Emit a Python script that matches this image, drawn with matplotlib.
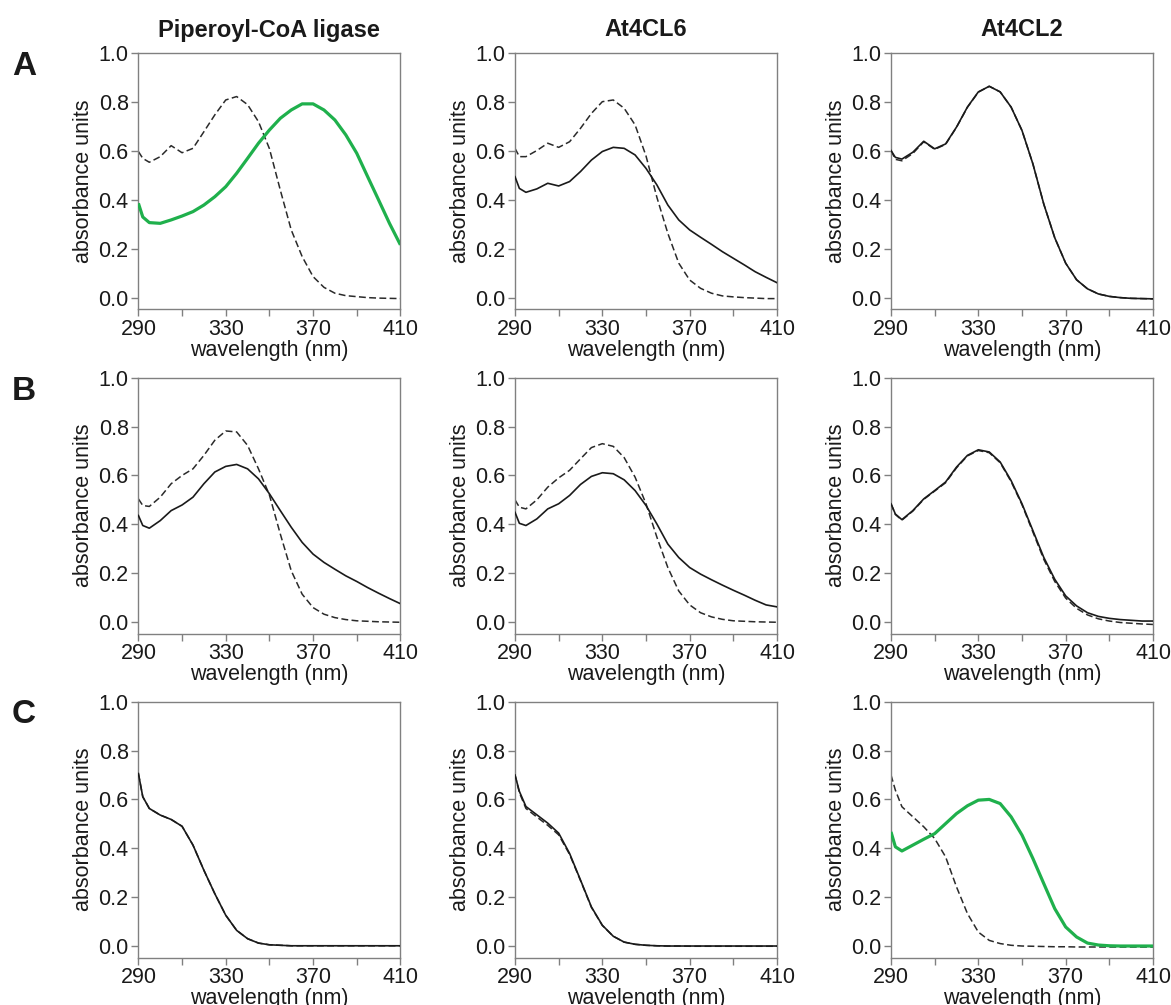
import matplotlib
matplotlib.use("Agg")
import matplotlib.pyplot as plt
from matplotlib.ticker import FixedLocator, FormatStrFormatter

plt.rcParams['font.family'] = ['Liberation Sans', 'DejaVu Sans']

# ---------------- data ----------------
wavelength = [290, 292, 295, 300, 305, 310, 315, 320, 325, 330, 335, 340, 345,
              350, 355, 360, 365, 370, 375, 380, 385, 390, 395, 400, 405, 410]

col_titles = ["Piperoyl-CoA ligase", "At4CL6", "At4CL2"]
row_letters = ["A", "B", "C"]

# Row A
A1_ref = [0.598, 0.570, 0.554, 0.577, 0.622, 0.593, 0.611, 0.679, 0.748, 0.809, 0.823, 0.790,
          0.720, 0.610, 0.440, 0.277, 0.168, 0.086, 0.042, 0.018, 0.008, 0.004, 0.000, -0.002, -0.003, -0.004]
A1_sam = [0.386, 0.330, 0.307, 0.304, 0.318, 0.334, 0.352, 0.379, 0.413, 0.454, 0.509, 0.570,
          0.632, 0.686, 0.734, 0.768, 0.793, 0.793, 0.768, 0.727, 0.666, 0.591, 0.495, 0.400, 0.304, 0.216]
A2_ref = [0.611, 0.577, 0.577, 0.602, 0.632, 0.615, 0.638, 0.693, 0.754, 0.802, 0.809, 0.775,
          0.707, 0.580, 0.410, 0.263, 0.141, 0.072, 0.038, 0.018, 0.007, 0.003, 0.000, -0.002, -0.004, -0.004]
A2_sam = [0.495, 0.447, 0.431, 0.445, 0.468, 0.457, 0.475, 0.516, 0.563, 0.598, 0.615, 0.611,
          0.584, 0.529, 0.461, 0.379, 0.318, 0.277, 0.247, 0.218, 0.188, 0.161, 0.134, 0.106, 0.083, 0.061]
A3_ref = [0.602, 0.566, 0.560, 0.590, 0.638, 0.607, 0.627, 0.697, 0.779, 0.841, 0.865, 0.842,
          0.780, 0.684, 0.547, 0.382, 0.245, 0.141, 0.073, 0.036, 0.015, 0.005, 0.000, -0.003, -0.004, -0.005]
A3_sam = [0.602, 0.574, 0.567, 0.595, 0.640, 0.609, 0.629, 0.698, 0.780, 0.842, 0.865, 0.842,
          0.780, 0.684, 0.547, 0.382, 0.245, 0.141, 0.073, 0.036, 0.015, 0.005, 0.000, -0.003, -0.004, -0.005]

# Row B
B1_ref = [0.504, 0.477, 0.473, 0.511, 0.566, 0.600, 0.627, 0.682, 0.744, 0.782, 0.778, 0.723,
          0.627, 0.520, 0.360, 0.210, 0.114, 0.059, 0.032, 0.018, 0.010, 0.005, 0.003, 0.001, 0.000, -0.001]
B1_sam = [0.436, 0.395, 0.384, 0.415, 0.456, 0.479, 0.511, 0.566, 0.614, 0.637, 0.645, 0.627,
          0.586, 0.525, 0.456, 0.388, 0.326, 0.278, 0.244, 0.216, 0.189, 0.166, 0.141, 0.118, 0.096, 0.075]
B2_ref = [0.500, 0.470, 0.463, 0.500, 0.552, 0.590, 0.621, 0.668, 0.714, 0.730, 0.719, 0.673,
          0.593, 0.484, 0.347, 0.223, 0.127, 0.070, 0.038, 0.021, 0.011, 0.005, 0.003, 0.001, 0.000, -0.001]
B2_sam = [0.449, 0.404, 0.395, 0.422, 0.463, 0.484, 0.518, 0.563, 0.596, 0.611, 0.607, 0.582,
          0.538, 0.477, 0.401, 0.319, 0.264, 0.223, 0.196, 0.173, 0.151, 0.130, 0.110, 0.089, 0.070, 0.062]
B3_ref = [0.484, 0.440, 0.417, 0.454, 0.502, 0.536, 0.570, 0.631, 0.680, 0.702, 0.693, 0.652,
          0.575, 0.480, 0.368, 0.256, 0.166, 0.098, 0.056, 0.029, 0.013, 0.004, -0.002, -0.005, -0.008, -0.010]
B3_sam = [0.484, 0.442, 0.419, 0.456, 0.504, 0.538, 0.573, 0.634, 0.682, 0.705, 0.696, 0.655,
          0.579, 0.484, 0.374, 0.264, 0.175, 0.107, 0.066, 0.038, 0.023, 0.015, 0.010, 0.007, 0.004, 0.004]

# Row C
C1_ref = [0.706, 0.611, 0.563, 0.536, 0.518, 0.490, 0.413, 0.310, 0.214, 0.126, 0.064, 0.030,
          0.012, 0.005, 0.003, 0.001, 0.001, 0.001, 0.001, 0.001, 0.001, 0.001, 0.001, 0.001, 0.001, 0.001]
C1_sam = [0.706, 0.611, 0.563, 0.536, 0.518, 0.490, 0.413, 0.310, 0.214, 0.126, 0.064, 0.030,
          0.012, 0.005, 0.003, 0.001, 0.001, 0.001, 0.001, 0.001, 0.001, 0.001, 0.001, 0.001, 0.001, 0.001]
C2_ref = [0.700, 0.628, 0.563, 0.528, 0.494, 0.455, 0.375, 0.268, 0.158, 0.084, 0.040, 0.016,
          0.007, 0.003, 0.001, 0.000, 0.000, -0.001, -0.001, -0.001, -0.001, -0.001, -0.001, -0.001, -0.001, -0.001]
C2_sam = [0.700, 0.633, 0.571, 0.537, 0.503, 0.462, 0.379, 0.270, 0.160, 0.085, 0.040, 0.016,
          0.007, 0.003, 0.001, 0.000, 0.000, 0.000, 0.000, 0.000, 0.000, 0.000, 0.000, 0.000, 0.000, 0.000]
C3_ref = [0.700, 0.638, 0.570, 0.529, 0.488, 0.440, 0.365, 0.242, 0.133, 0.057, 0.023, 0.010,
          0.003, 0.000, -0.001, -0.002, -0.003, -0.003, -0.004, -0.004, -0.004, -0.004, -0.004, -0.004, -0.004, -0.004]
C3_sam = [0.467, 0.406, 0.389, 0.413, 0.437, 0.460, 0.501, 0.542, 0.574, 0.597, 0.600, 0.583,
          0.529, 0.454, 0.358, 0.255, 0.153, 0.078, 0.037, 0.012, 0.004, 0.001, 0.000, 0.000, 0.000, 0.000]

panels = [
    [(A1_ref, A1_sam, True), (A2_ref, A2_sam, False), (A3_ref, A3_sam, False)],
    [(B1_ref, B1_sam, False), (B2_ref, B2_sam, False), (B3_ref, B3_sam, False)],
    [(C1_ref, C1_sam, False), (C2_ref, C2_sam, False), (C3_ref, C3_sam, True)],
]

x_major = [290, 330, 370, 410]
x_minor = [310, 350, 390]
y_ticks = [0.0, 0.2, 0.4, 0.6, 0.8, 1.0]

# ---------------- figure ----------------
W, H = 1171, 1005
fig = plt.figure(figsize=(W / 100, H / 100), dpi=100)

col_left = [138.4, 515.0, 891.0]
ax_w = 262.0
row_top = [53.3, 377.7, 701.7]
ax_h = 255.8

GREEN = '#1fb04c'
SPINE = '#808080'
TXT = '#1a1a1a'

for r in range(3):
    for c in range(3):
        ref, sam, green = panels[r][c]
        ax = fig.add_axes([col_left[c] / W, 1 - (row_top[r] + ax_h) / H, ax_w / W, ax_h / H])
        ax.plot(wavelength, ref, color='#2a2a2a', lw=1.1, ls=(0, (4.5, 2.2)), zorder=2)
        if green:
            ax.plot(wavelength, sam, color=GREEN, lw=2.3, zorder=3, solid_capstyle='butt')
        else:
            ax.plot(wavelength, sam, color='#1a1a1a', lw=1.2, zorder=3)
        ax.set_xlim(290, 410)
        ax.set_ylim(-0.047, 1.0)
        ax.xaxis.set_major_locator(FixedLocator(x_major))
        ax.xaxis.set_minor_locator(FixedLocator(x_minor))
        ax.yaxis.set_major_locator(FixedLocator(y_ticks))
        ax.yaxis.set_major_formatter(FormatStrFormatter('%.1f'))
        ax.tick_params(which='both', direction='out', length=5, width=1.0, color=SPINE,
                       labelsize=15.5, labelcolor=TXT, pad=2)
        for s in ax.spines.values():
            s.set_color(SPINE)
            s.set_linewidth(1.0)
        ax.set_xlabel('wavelength (nm)', fontsize=15.5, color=TXT, labelpad=0)
        ax.set_ylabel('absorbance units', fontsize=15.5, color=TXT, labelpad=3)

for c in range(3):
    cx = (col_left[c] + ax_w / 2) / W
    fig.text(cx, 1 - 30 / H, col_titles[c], ha='center', va='center', fontsize=17,
             fontweight='bold', color=TXT)

letter_base = [75, 400, 723]
for r in range(3):
    fig.text(12 / W, 1 - letter_base[r] / H, row_letters[r], ha='left', va='baseline',
             fontsize=24, fontweight='bold', color=TXT)

fig.savefig('out.png', dpi=100)
